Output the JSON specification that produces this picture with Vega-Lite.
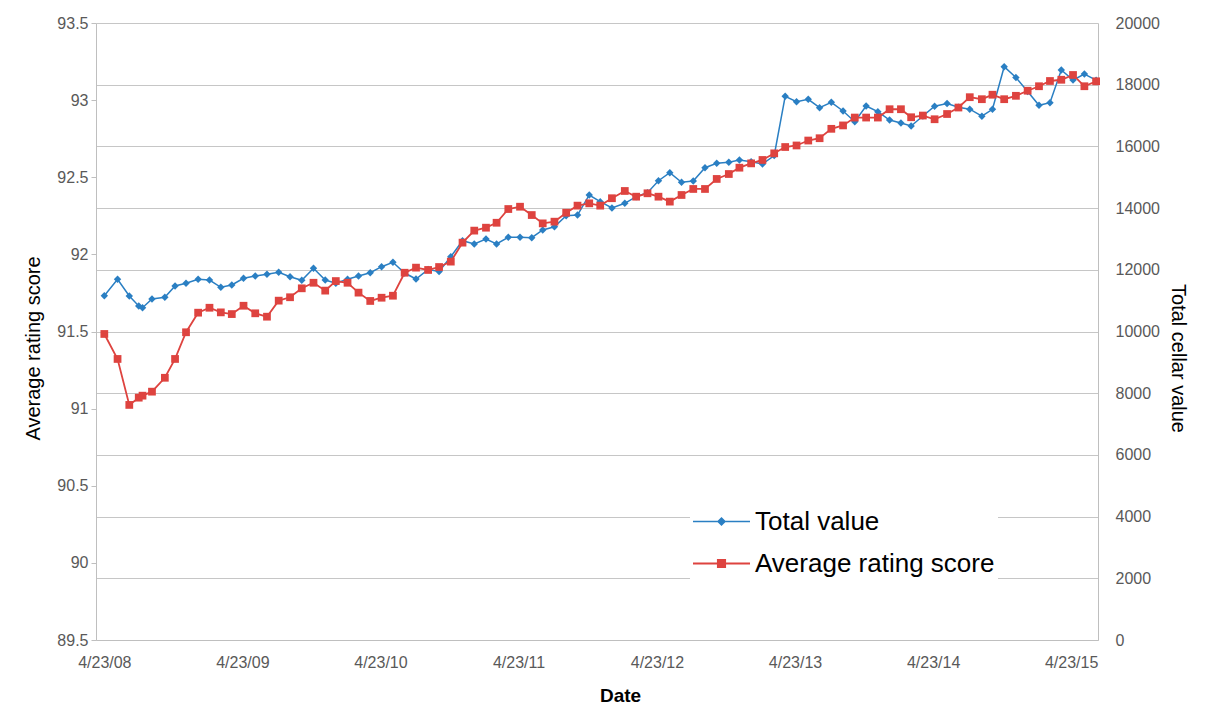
{
  "$schema": "https://vega.github.io/schema/vega-lite/v6.json",
  "width": 1002,
  "height": 617,
  "autosize": "none",
  "padding": {"left": 96, "top": 23, "right": 117, "bottom": 72},
  "background": "white",
  "config": {
    "view": {"stroke": null},
    "font": "Liberation Sans",
    "axis": {
      "labelFont": "Liberation Sans",
      "labelFontSize": 16,
      "labelColor": "#595959",
      "titleFont": "Liberation Sans",
      "titleFontSize": 20,
      "titleFontWeight": "normal",
      "titleColor": "black",
      "domainColor": "#BFBFBF",
      "tickColor": "#BFBFBF",
      "gridColor": "#C6C6C6"
    }
  },
  "data": {
    "values": [
      {"date": "2008-04-23", "total": 11160, "score": 91.484},
      {"date": "2008-05-28", "total": 11692, "score": 91.322},
      {"date": "2008-06-28", "total": 11151, "score": 91.024},
      {"date": "2008-07-23", "total": 10827, "score": 91.071},
      {"date": "2008-08-02", "total": 10772, "score": 91.084},
      {"date": "2008-08-27", "total": 11054, "score": 91.110},
      {"date": "2008-09-30", "total": 11109, "score": 91.200},
      {"date": "2008-10-27", "total": 11475, "score": 91.322},
      {"date": "2008-11-25", "total": 11563, "score": 91.495},
      {"date": "2008-12-27", "total": 11692, "score": 91.622},
      {"date": "2009-01-26", "total": 11669, "score": 91.654},
      {"date": "2009-02-25", "total": 11433, "score": 91.624},
      {"date": "2009-03-26", "total": 11507, "score": 91.613},
      {"date": "2009-04-26", "total": 11725, "score": 91.667},
      {"date": "2009-05-27", "total": 11799, "score": 91.618},
      {"date": "2009-06-27", "total": 11857, "score": 91.596},
      {"date": "2009-07-28", "total": 11919, "score": 91.700},
      {"date": "2009-08-27", "total": 11777, "score": 91.722},
      {"date": "2009-09-27", "total": 11660, "score": 91.780},
      {"date": "2009-10-28", "total": 12049, "score": 91.816},
      {"date": "2009-11-28", "total": 11669, "score": 91.765},
      {"date": "2009-12-26", "total": 11563, "score": 91.827},
      {"date": "2010-01-26", "total": 11692, "score": 91.816},
      {"date": "2010-02-24", "total": 11799, "score": 91.752},
      {"date": "2010-03-27", "total": 11906, "score": 91.698},
      {"date": "2010-04-26", "total": 12101, "score": 91.719},
      {"date": "2010-05-26", "total": 12243, "score": 91.732},
      {"date": "2010-06-26", "total": 11896, "score": 91.881},
      {"date": "2010-07-26", "total": 11702, "score": 91.914},
      {"date": "2010-08-27", "total": 12010, "score": 91.899},
      {"date": "2010-09-25", "total": 11945, "score": 91.918},
      {"date": "2010-10-26", "total": 12425, "score": 91.953},
      {"date": "2010-11-26", "total": 12943, "score": 92.076},
      {"date": "2010-12-27", "total": 12836, "score": 92.154},
      {"date": "2011-01-27", "total": 12998, "score": 92.173},
      {"date": "2011-02-24", "total": 12836, "score": 92.205},
      {"date": "2011-03-27", "total": 13054, "score": 92.294},
      {"date": "2011-04-27", "total": 13054, "score": 92.309},
      {"date": "2011-05-28", "total": 13041, "score": 92.255},
      {"date": "2011-06-26", "total": 13290, "score": 92.201},
      {"date": "2011-07-27", "total": 13397, "score": 92.212},
      {"date": "2011-08-27", "total": 13754, "score": 92.270},
      {"date": "2011-09-26", "total": 13776, "score": 92.316},
      {"date": "2011-10-27", "total": 14425, "score": 92.331},
      {"date": "2011-11-25", "total": 14208, "score": 92.316},
      {"date": "2011-12-26", "total": 14003, "score": 92.364},
      {"date": "2012-01-29", "total": 14156, "score": 92.411},
      {"date": "2012-02-28", "total": 14370, "score": 92.374},
      {"date": "2012-03-29", "total": 14499, "score": 92.396},
      {"date": "2012-04-27", "total": 14888, "score": 92.374},
      {"date": "2012-05-27", "total": 15148, "score": 92.342},
      {"date": "2012-06-27", "total": 14836, "score": 92.385},
      {"date": "2012-07-28", "total": 14878, "score": 92.424},
      {"date": "2012-08-28", "total": 15310, "score": 92.424},
      {"date": "2012-09-28", "total": 15452, "score": 92.489},
      {"date": "2012-10-30", "total": 15485, "score": 92.521},
      {"date": "2012-11-27", "total": 15559, "score": 92.562},
      {"date": "2012-12-28", "total": 15504, "score": 92.590},
      {"date": "2013-01-27", "total": 15430, "score": 92.612},
      {"date": "2013-02-27", "total": 15705, "score": 92.655},
      {"date": "2013-03-28", "total": 17624, "score": 92.696},
      {"date": "2013-04-27", "total": 17449, "score": 92.706},
      {"date": "2013-05-28", "total": 17527, "score": 92.738},
      {"date": "2013-06-27", "total": 17255, "score": 92.753},
      {"date": "2013-07-28", "total": 17430, "score": 92.814},
      {"date": "2013-08-28", "total": 17148, "score": 92.836},
      {"date": "2013-09-28", "total": 16801, "score": 92.887},
      {"date": "2013-10-28", "total": 17310, "score": 92.887},
      {"date": "2013-11-28", "total": 17125, "score": 92.887},
      {"date": "2013-12-29", "total": 16856, "score": 92.941},
      {"date": "2014-01-28", "total": 16759, "score": 92.941},
      {"date": "2014-02-24", "total": 16661, "score": 92.889},
      {"date": "2014-03-27", "total": 16985, "score": 92.900},
      {"date": "2014-04-27", "total": 17300, "score": 92.876},
      {"date": "2014-05-30", "total": 17391, "score": 92.910},
      {"date": "2014-06-29", "total": 17268, "score": 92.952},
      {"date": "2014-07-29", "total": 17206, "score": 93.019},
      {"date": "2014-08-30", "total": 16979, "score": 93.006},
      {"date": "2014-09-27", "total": 17203, "score": 93.035},
      {"date": "2014-10-28", "total": 18584, "score": 93.006},
      {"date": "2014-11-28", "total": 18233, "score": 93.028},
      {"date": "2014-12-29", "total": 17780, "score": 93.061},
      {"date": "2015-01-28", "total": 17332, "score": 93.090},
      {"date": "2015-02-26", "total": 17417, "score": 93.124},
      {"date": "2015-03-28", "total": 18477, "score": 93.132},
      {"date": "2015-04-28", "total": 18152, "score": 93.163},
      {"date": "2015-05-28", "total": 18347, "score": 93.090},
      {"date": "2015-06-28", "total": 18146, "score": 93.122}
    ]
  },
  "encoding": {
    "x": {
      "field": "date",
      "type": "temporal",
      "title": "Date",
      "scale": {
        "type": "utc",
        "domain": [
          {"year": 2008, "month": 4, "date": 1, "utc": true},
          {"year": 2015, "month": 7, "date": 3, "utc": true}
        ]
      },
      "axis": {
        "values": [
          {"year": 2008, "month": 4, "date": 23, "utc": true},
          {"year": 2009, "month": 4, "date": 23, "utc": true},
          {"year": 2010, "month": 4, "date": 23, "utc": true},
          {"year": 2011, "month": 4, "date": 23, "utc": true},
          {"year": 2012, "month": 4, "date": 23, "utc": true},
          {"year": 2013, "month": 4, "date": 23, "utc": true},
          {"year": 2014, "month": 4, "date": 23, "utc": true},
          {"year": 2015, "month": 4, "date": 23, "utc": true}
        ],
        "labelExpr": "utcFormat(datum.value, '%-m/%-d/%y')",
        "grid": false,
        "ticks": false,
        "labelPadding": 14,
        "labelFlush": false,
        "labelOverlap": false,
        "titleFontSize": 19,
        "titleFontWeight": "bold",
        "titlePadding": 16,
        "titleX": 524
      }
    }
  },
  "layer": [
    {
      "encoding": {
        "y": {
          "field": "total",
          "type": "quantitative",
          "scale": {"domain": [0, 20000], "nice": false, "zero": true},
          "axis": {
            "orient": "right",
            "title": "Total cellar value",
            "values": [0, 2000, 4000, 6000, 8000, 10000, 12000, 14000, 16000, 18000, 20000],
            "format": "d",
            "grid": true,
            "ticks": false,
            "labelPadding": 17,
            "titlePadding": 8,
            "titleY": 335
          }
        },
        "color": {
          "datum": "Total value",
          "type": "nominal",
          "scale": {"domain": ["Total value", "Average rating score"], "range": ["#2A7FC3", "#DE433F"]},
          "legend": {
            "orient": "none",
            "legendX": 594,
            "legendY": 467,
            "padding": 3,
            "fillColor": "white",
            "title": null,
            "symbolSize": 3249,
            "symbolStrokeWidth": 0,
            "labelFont": "Liberation Sans",
            "labelFontSize": 26,
            "labelColor": "black",
            "labelOffset": 5,
            "labelLimit": 400,
            "rowPadding": -13,
            "encode": {
              "symbols": {
                "update": {
                  "shape": {"signal": "datum.value === 'Total value' ? 'M-1,-0.03L1,-0.03L1,0.03L-1,0.03Z M0,-0.16L0.16,0L0,0.16L-0.16,0Z' : 'M-1,-0.035L1,-0.035L1,0.035L-1,0.035Z M-0.16,-0.16L0.16,-0.16L0.16,0.16L-0.16,0.16Z'"},
                  "fill": {"signal": "datum.value === 'Total value' ? '#2A7FC3' : '#DE433F'"},
                  "stroke": {"value": "transparent"},
                  "opacity": {"value": 1}
                }
              }
            }
          }
        }
      },
      "layer": [
        {"mark": {"type": "line", "strokeWidth": 1.5}},
        {"mark": {"type": "point", "shape": "diamond", "filled": true, "size": 55, "opacity": 1}}
      ]
    },
    {
      "encoding": {
        "y": {
          "field": "score",
          "type": "quantitative",
          "scale": {"domain": [89.5, 93.5], "nice": false, "zero": false},
          "axis": {
            "orient": "left",
            "title": "Average rating score",
            "values": [89.5, 90, 90.5, 91, 91.5, 92, 92.5, 93, 93.5],
            "format": ".1~f",
            "grid": false,
            "ticks": true,
            "tickSize": 5,
            "labelPadding": 3,
            "titlePadding": 13,
            "titleY": 325
          }
        },
        "color": {
          "datum": "Average rating score",
          "type": "nominal",
          "scale": {"domain": ["Total value", "Average rating score"], "range": ["#2A7FC3", "#DE433F"]}
        }
      },
      "layer": [
        {"mark": {"type": "line", "strokeWidth": 1.8}},
        {"mark": {"type": "point", "shape": "square", "filled": true, "size": 60, "opacity": 1}}
      ]
    }
  ],
  "resolve": {"scale": {"y": "independent"}}
}
